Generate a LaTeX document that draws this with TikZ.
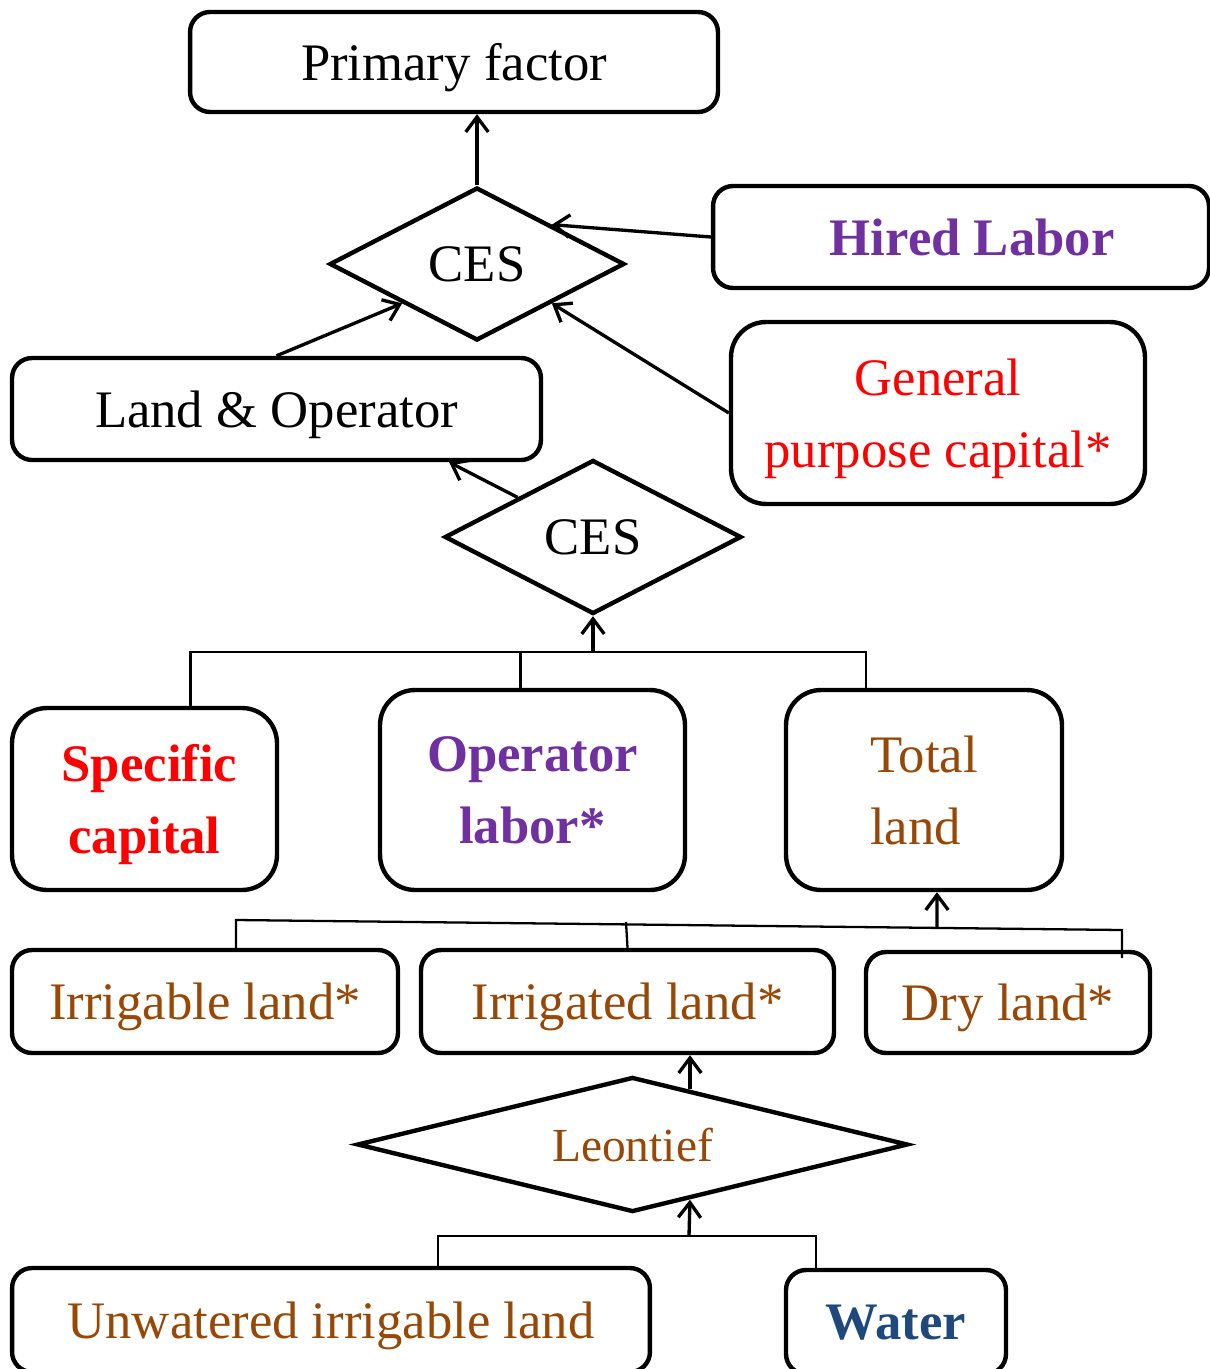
\documentclass[tikz,border=0pt]{standalone}
\usepackage{fontspec}
\setmainfont{Liberation Serif}
\usetikzlibrary{shapes.geometric,arrows.meta}
\definecolor{laborpurple}{HTML}{7030A0}
\definecolor{landbrown}{HTML}{984806}
\definecolor{waterblue}{HTML}{1F497D}
\begin{document}
\begin{tikzpicture}[
  x=0.02cm, y=-0.02cm,
  every node/.style={font=\fontsize{30}{41}\selectfont, align=center, inner sep=0pt, text depth=0pt},
  factor/.style={draw, rectangle, rounded corners=0.4cm, line width=2.5pt},
  tallfactor/.style={factor, rounded corners=0.7cm},
  nest/.style={draw, diamond, line width=2.5pt, shape aspect=2},
  feed/.style={-{Straight Barb[length=0.3cm,width=0.45cm,line width=1.9pt]}, line width=1.9pt},
  bar/.style={line width=1.3pt}
]
\useasboundingbox (0,0) rectangle (1210,1369);
\clip (0,0) rectangle (1210,1369);

% Top level
\node[factor, minimum width=10.56cm, minimum height=2cm] (prim) at (454,62) {Primary factor};
\node[nest, minimum width=5.9cm, minimum height=3.06cm] (ces1) at (477,264) {CES};
\node[factor, minimum width=9.92cm, minimum height=2.04cm, text=laborpurple, font=\fontsize{30}{41}\selectfont\bfseries] (hired) at (961,237) {\hspace*{0.45cm}Hired Labor};
\node[tallfactor, minimum width=8.28cm, minimum height=3.64cm, text=red] (gen) at (938,413) {General\\purpose capital*};
\node[factor, minimum width=10.58cm, minimum height=2.04cm] (landop) at (276.5,409) {Land \& Operator};

% Land and operator nest
\node[nest, minimum width=5.94cm, minimum height=3.08cm] (ces2) at (593,537) {CES};
\node[tallfactor, minimum width=5.3cm, minimum height=3.64cm, text=red, font=\fontsize{30}{41}\selectfont\bfseries] (spec) at (144.5,799) {\hspace*{0.2cm}Specific\\capital};
\node[tallfactor, minimum width=6.1cm, minimum height=4cm, text=laborpurple, font=\fontsize{30}{41}\selectfont\bfseries] (oplab) at (532.5,790) {Operator\\labor*};
\node[tallfactor, minimum width=5.52cm, minimum height=4cm, text=landbrown, align=left] (tot) at (924,790) {Total\\land};

% Land types
\node[factor, minimum width=7.72cm, minimum height=2.06cm, text=landbrown] (irgb) at (205,1001.5) {Irrigable land*};
\node[factor, minimum width=8.26cm, minimum height=2.06cm, text=landbrown] (irgd) at (627.5,1001.5) {Irrigated land*};
\node[factor, minimum width=5.68cm, minimum height=2.02cm, text=landbrown] (dry) at (1008,1002.5) {Dry land*};

% Irrigated land nest
\node[nest, shape aspect=4, minimum width=11.02cm, minimum height=2.7cm, text=landbrown, font=\fontsize{27}{33}\selectfont] (leon) at (632.5,1144.5) {Leontief};
\node[factor, minimum width=12.76cm, minimum height=2.08cm, text=landbrown] (unw) at (331,1320) {Unwatered irrigable land};
\node[factor, minimum width=4.4cm, minimum height=2.08cm, text=waterblue, font=\fontsize{30}{41}\selectfont\bfseries] (water) at (896,1322) {Water};

% Arrows into CES
\draw[feed] (ces1.north) -- (prim.south -| ces1.north);
\draw[feed] (hired.west) -- (ces1.north east);
\draw[feed] (gen.west) -- (ces1.south east);
\draw[feed] (landop.north) -- (ces1.south west);
\draw[feed] (ces2.north west) -- ([xshift=-1.88cm]landop.south east);

% Bracket under second CES
\coordinate (jn1) at (593,652);
\draw[bar] ([xshift=0.92cm]spec.north) |- (jn1) -| ([xshift=-1.16cm]tot.north);
\draw[bar] ([xshift=-0.24cm]oplab.north) -- ([xshift=-0.24cm]oplab.north |- jn1);
\draw[feed] (jn1) -- (ces2.south);

% Bracket under total land
\coordinate (jn2a) at (236,920);
\coordinate (jn2b) at (1122,930);
\coordinate (jn2) at (937,928);
\draw[bar] ([xshift=0.62cm]irgb.north) -- (jn2a) -- (jn2b) -- ([xshift=2.28cm,yshift=-0.16cm]dry.north);
\draw[bar] (irgd.north) -- (626,922);
\draw[feed] (jn2) -- ([xshift=0.26cm]tot.south);

% Leontief nest
\path (leon.north) -- (leon.east) coordinate[pos=0.207] (lne);
\path (leon.south) -- (leon.east) coordinate[pos=0.207] (lse);
\draw[feed] (lne) -- (lne |- irgd.south);
\coordinate (jn3) at (689,1236);
\draw[bar] ([xshift=2.14cm]unw.north) |- (jn3) -| ([xshift=-1.6cm]water.north);
\draw[feed] (jn3) -- (lse);
\end{tikzpicture}
\end{document}
